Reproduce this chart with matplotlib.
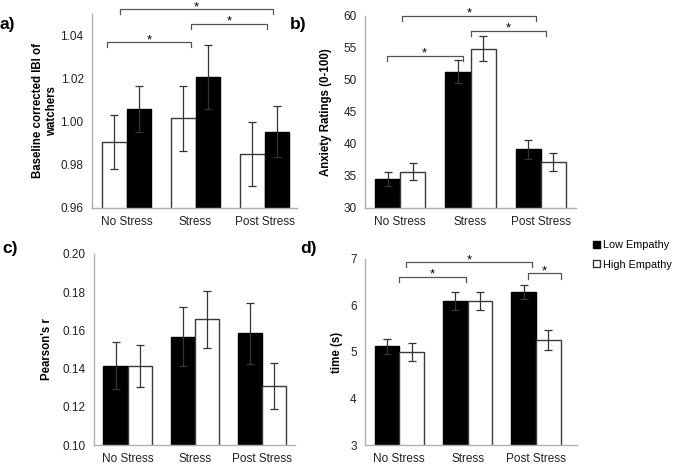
import numpy as np
import matplotlib
matplotlib.use("Agg")
import matplotlib.pyplot as plt
from matplotlib.patches import Patch

plt.rcParams['font.family'] = ['Liberation Sans', 'DejaVu Sans']

conditions = ["No Stress", "Stress", "Post Stress"]

# panel a (white bars drawn first here)
ibi_high = [0.9906, 1.0016, 0.9850]
ibi_high_err = [0.0125, 0.0150, 0.0148]
ibi_low = [1.0060, 1.0207, 0.9953]
ibi_low_err = [0.0108, 0.0149, 0.0118]

# panel b
anx_low = [34.5, 51.3, 39.2]
anx_low_err = [1.1, 1.8, 1.5]
anx_high = [35.7, 54.9, 37.2]
anx_high_err = [1.3, 1.95, 1.35]

# panel c
r_low = [0.1416, 0.1567, 0.1586]
r_low_err = [0.0125, 0.0153, 0.0160]
r_high = [0.1412, 0.1658, 0.1309]
r_high_err = [0.0110, 0.0150, 0.0119]

# panel d
t_low = [5.12, 6.09, 6.29]
t_low_err = [0.17, 0.19, 0.16]
t_high = [5.00, 6.09, 5.26]
t_high_err = [0.19, 0.19, 0.21]

# significance brackets: (x0, x1, y)
sig_a = [(-0.28, 0.94, 1.037), (0.94, 2.03, 1.0454), (-0.09, 2.12, 1.0523)]
sig_b = [(-0.19, 0.89, 53.75), (1.0, 2.07, 57.66), (0.03, 1.93, 60.0)]
sig_d = [(-0.01, 0.98, 6.62), (0.1, 1.94, 6.93), (1.88, 2.36, 6.69)]

W, H = 675, 466
fig = plt.figure(figsize=(W / 100, H / 100), dpi=100)

spine_col = "#b0b0b0"
err_col = "#333333"
edge_col = "#3a3a3a"
bw = 0.36


def px_axes(l, r, t, b):
    return fig.add_axes([l / W, 1 - b / H, (r - l) / W, (b - t) / H])


def style(ax, ylim, yticks, fmt, xlim):
    ax.set_ylim(*ylim)
    ax.set_xlim(*xlim)
    ax.set_yticks(yticks)
    ax.set_yticklabels([fmt.format(v) for v in yticks])
    ax.set_xticks(range(3))
    ax.set_xticklabels(conditions)
    ax.tick_params(length=0, labelsize=8.5, pad=6, colors="#222222")
    for s in ["top", "right"]:
        ax.spines[s].set_visible(False)
    for s in ["left", "bottom"]:
        ax.spines[s].set_color(spine_col)
        ax.spines[s].set_linewidth(1.0)


def bars(ax, first, first_err, second, second_err, first_black):
    x = np.arange(3)
    c1, c2 = ("black", "white") if first_black else ("white", "black")
    ax.bar(x - bw / 2, first, bw, color=c1, edgecolor=edge_col if c1 == "white" else "black",
           linewidth=1.0, zorder=2)
    ax.bar(x + bw / 2, second, bw, color=c2, edgecolor=edge_col if c2 == "white" else "black",
           linewidth=1.0, zorder=2)
    ax.errorbar(x - bw / 2, first, yerr=first_err, fmt="none", ecolor=err_col,
                elinewidth=0.9, capsize=3, capthick=0.9, zorder=3)
    ax.errorbar(x + bw / 2, second, yerr=second_err, fmt="none", ecolor=err_col,
                elinewidth=0.9, capsize=3, capthick=0.9, zorder=3)


def brackets(ax, sigs, tick):
    for x0, x1, y in sigs:
        ax.plot([x0, x0, x1, x1], [y - tick, y, y, y - tick], color="#555555",
                lw=0.9, clip_on=False, zorder=4)
        ax.annotate("*", ((x0 + x1) / 2, y), xytext=(0, 1.5), textcoords="offset points",
                    ha="center", va="center", fontsize=9.5, annotation_clip=False)


# a)
ax_a = px_axes(92, 297, 14, 208)
bars(ax_a, ibi_high, ibi_high_err, ibi_low, ibi_low_err, first_black=False)
style(ax_a, (0.96, 1.05), [0.96, 0.98, 1.00, 1.02, 1.04], "{:.2f}", (-0.5, 2.47))
brackets(ax_a, sig_a, 0.0025)
ax_a.set_ylabel("Baseline corrected IBI of\nwatchers", fontsize=8.3, fontweight="bold",
                labelpad=2, linespacing=1.2)

# b)
ax_b = px_axes(365, 576, 16, 208)
bars(ax_b, anx_low, anx_low_err, anx_high, anx_high_err, first_black=True)
style(ax_b, (30, 60), [30, 35, 40, 45, 50, 55, 60], "{:d}", (-0.5, 2.5))
brackets(ax_b, sig_b, 0.85)
ax_b.set_ylabel("Anxiety Ratings (0-100)", fontsize=8.3, fontweight="bold", labelpad=8)

# c)
ax_c = px_axes(94, 295, 254, 445)
bars(ax_c, r_low, r_low_err, r_high, r_high_err, first_black=True)
style(ax_c, (0.10, 0.20), [0.10, 0.12, 0.14, 0.16, 0.18, 0.20], "{:.2f}", (-0.5, 2.49))
ax_c.set_ylabel("Pearson's r", fontsize=8.3, fontweight="bold", labelpad=7)

# d)
ax_d = px_axes(365, 577, 259, 445)
bars(ax_d, t_low, t_low_err, t_high, t_high_err, first_black=True)
style(ax_d, (3, 7), [3, 4, 5, 6, 7], "{:d}", (-0.5, 2.6))
brackets(ax_d, sig_d, 0.11)
ax_d.set_ylabel("time (s)", fontsize=8.3, fontweight="bold", labelpad=5)

# panel letters
for lbl, xp, yp in [("a)", 0, 24), ("b)", 290, 24), ("c)", 2, 248), ("d)", 300, 248)]:
    fig.text(xp / W, 1 - yp / H, lbl, fontsize=12.5, fontweight="bold", va="center", ha="left")

handles = [Patch(facecolor="black", edgecolor="black", label="Low Empathy"),
           Patch(facecolor="white", edgecolor="#333333", label="High Empathy")]
fig.legend(handles=handles, loc="upper left", bbox_to_anchor=(588 / W, 1 - 235 / H),
           frameon=False, fontsize=7.8, handlelength=0.6, handleheight=0.6,
           handletextpad=0.25, labelspacing=0.85, borderpad=0)

fig.savefig("out.png", dpi=100)
